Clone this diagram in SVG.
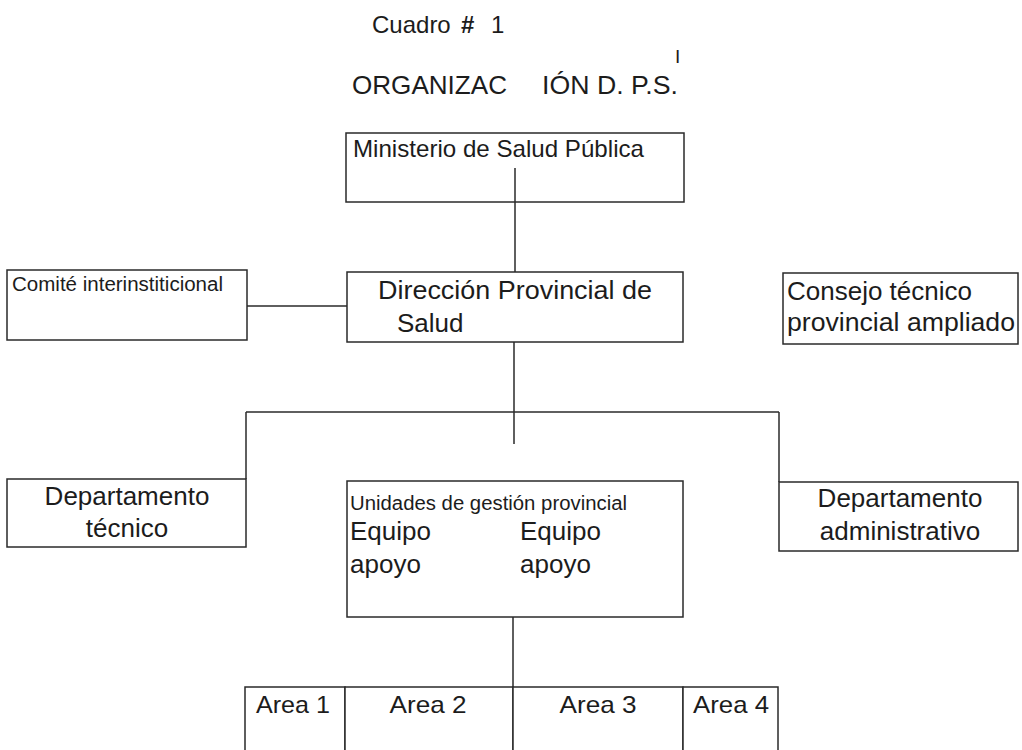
<svg xmlns="http://www.w3.org/2000/svg" width="1022" height="750" viewBox="0 0 1022 750">
<style>
text{font-family:"Liberation Sans",Arial,sans-serif;fill:#1c1c1c;}
.box{fill:#fff;stroke:#2a2a2a;stroke-width:1.5;}
.ln{stroke:#2a2a2a;stroke-width:1.5;fill:none;}
.big{font-size:26px;}
.mid{font-size:24px;}
.sm{font-size:20px;}
.c{text-anchor:middle;}
</style>
<rect width="1022" height="750" fill="#fff"/>
<g id="title">
<text class="mid" y="33"><tspan x="372">Cuadro</tspan><tspan x="461" font-weight="bold">#</tspan><tspan x="491">1</tspan></text>
<text x="675" y="63" style="font-size:19px">I</text>
<text class="big" y="94"><tspan x="352" textLength="155" lengthAdjust="spacingAndGlyphs">ORGANIZAC</tspan><tspan x="542" textLength="136" lengthAdjust="spacingAndGlyphs">IÓN D. P.S.</tspan></text>
</g>
<g id="ministerio">
<rect class="box" x="346" y="133" width="338" height="69"/>
<text class="mid" x="353" y="157" textLength="291" lengthAdjust="spacingAndGlyphs">Ministerio de Salud Pública</text>
</g>
<g id="connectors">
<line class="ln" x1="515" y1="168" x2="515" y2="272"/>
<line class="ln" x1="247" y1="306" x2="347" y2="306"/>
<line class="ln" x1="514" y1="342" x2="514" y2="444"/>
<line class="ln" x1="246" y1="412" x2="779" y2="412"/>
<line class="ln" x1="246" y1="412" x2="246" y2="479"/>
<line class="ln" x1="779" y1="412" x2="779" y2="482"/>
<line class="ln" x1="513" y1="617" x2="513" y2="687"/>
</g>
<g id="comite">
<rect class="box" x="7" y="270" width="240" height="70"/>
<text class="sm" x="12" y="291" textLength="211" lengthAdjust="spacingAndGlyphs">Comité interinstiticional</text>
</g>
<g id="direccion">
<rect class="box" x="347" y="272" width="336" height="70"/>
<text class="big" x="378" y="299" textLength="274" lengthAdjust="spacingAndGlyphs">Dirección Provincial de</text>
<text class="big" x="397" y="332">Salud</text>
</g>
<g id="consejo">
<rect class="box" x="783" y="273" width="235" height="71"/>
<text class="big" x="787" y="300">Consejo técnico</text>
<text class="big" x="787" y="331" textLength="228" lengthAdjust="spacingAndGlyphs">provincial ampliado</text>
</g>
<g id="dep-tecnico">
<rect class="box" x="7" y="479" width="239" height="68"/>
<text class="big c" x="127" y="505">Departamento</text>
<text class="big c" x="127" y="537">técnico</text>
</g>
<g id="unidades">
<rect class="box" x="347" y="481" width="336" height="136"/>
<text class="sm" x="350" y="510" textLength="277" lengthAdjust="spacingAndGlyphs">Unidades de gestión provincial</text>
<text class="big" x="350" y="540">Equipo</text>
<text class="big" x="350" y="573">apoyo</text>
<text class="big" x="520" y="540">Equipo</text>
<text class="big" x="520" y="573">apoyo</text>
</g>
<g id="dep-admin">
<rect class="box" x="779" y="482" width="239" height="69"/>
<text class="big c" x="900" y="507">Departamento</text>
<text class="big c" x="900" y="540">administrativo</text>
</g>
<g id="area1">
<rect class="box" x="245" y="687" width="100" height="80"/>
<text class="mid c" x="293" y="713" textLength="74" lengthAdjust="spacingAndGlyphs">Area 1</text>
</g>
<g id="area2">
<rect class="box" x="345" y="687" width="168" height="80"/>
<text class="mid c" x="428" y="713" textLength="77" lengthAdjust="spacingAndGlyphs">Area 2</text>
</g>
<g id="area3">
<rect class="box" x="513" y="687" width="170" height="80"/>
<text class="mid c" x="598" y="713" textLength="77" lengthAdjust="spacingAndGlyphs">Area 3</text>
</g>
<g id="area4">
<rect class="box" x="683" y="687" width="95" height="80"/>
<text class="mid c" x="731" y="713" textLength="76" lengthAdjust="spacingAndGlyphs">Area 4</text>
</g>
</svg>
